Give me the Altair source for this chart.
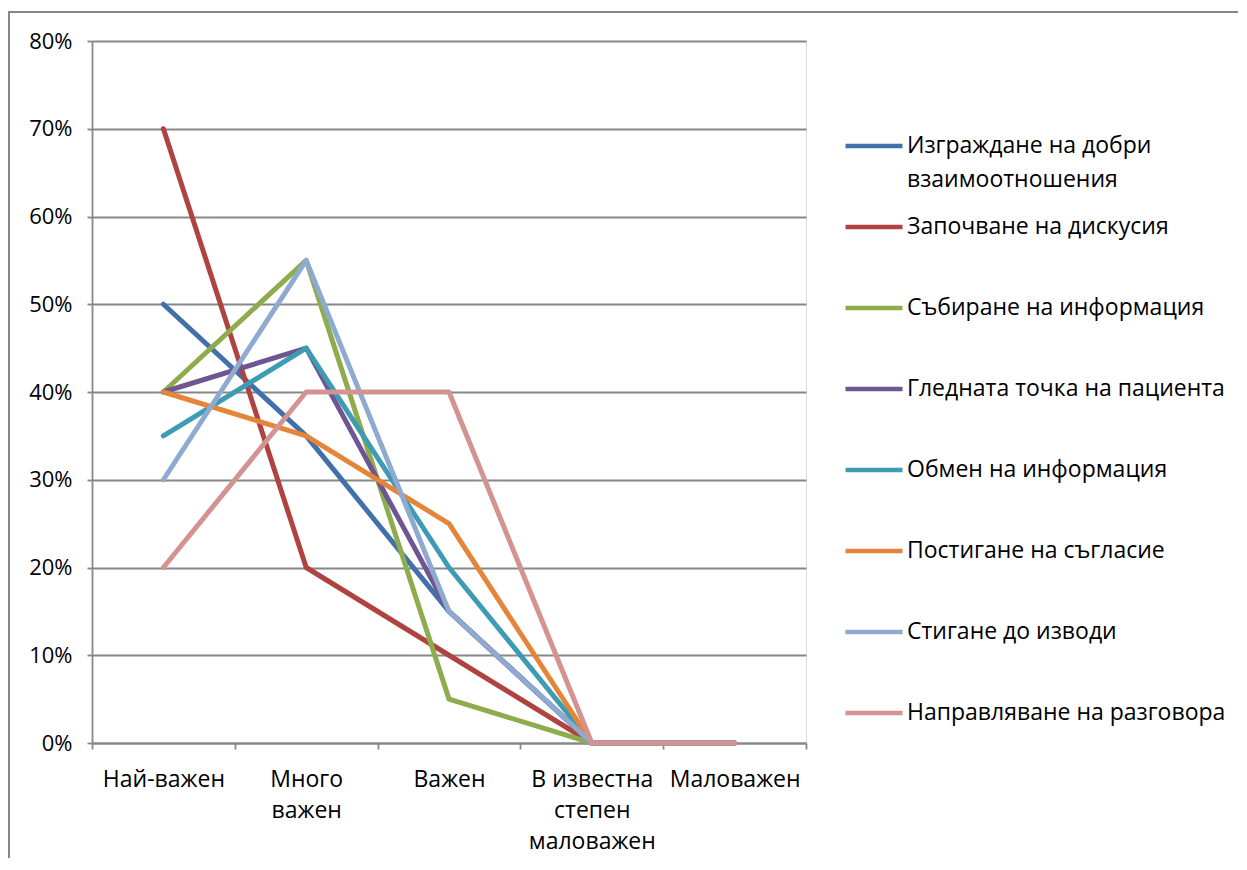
import json
import altair as alt
import pandas as pd

categories = ["Най-важен", "Много важен", "Важен", "В известна степен маловажен", "Маловажен"]
category_label_lines = [["Най-важен"], ["Много", "важен"], ["Важен"], ["В известна", "степен", "маловажен"], ["Маловажен"]]

series_names = [
    "Изграждане на добри взаимоотношения",
    "Започване на дискусия",
    "Събиране на информация",
    "Гледната точка на пациента",
    "Обмен на информация",
    "Постигане на съгласие",
    "Стигане до изводи",
    "Направляване на разговора",
]
legend_label_lines = [
    ["Изграждане на добри", "взаимоотношения"],
    ["Започване на дискусия"],
    ["Събиране на информация"],
    ["Гледната точка на пациента"],
    ["Обмен на информация"],
    ["Постигане на съгласие"],
    ["Стигане до изводи"],
    ["Направляване на разговора"],
]

s_izgrazhdane = [0.50, 0.35, 0.15, 0.0, 0.0]
s_zapochvane = [0.70, 0.20, 0.10, 0.0, 0.0]
s_sabirane = [0.40, 0.55, 0.05, 0.0, 0.0]
s_gledna = [0.40, 0.45, 0.15, 0.0, 0.0]
s_obmen = [0.35, 0.45, 0.20, 0.0, 0.0]
s_postigane = [0.40, 0.35, 0.25, 0.0, 0.0]
s_stigane = [0.30, 0.55, 0.15, 0.0, 0.0]
s_napravlyavane = [0.20, 0.40, 0.40, 0.0, 0.0]

series_values = [s_izgrazhdane, s_zapochvane, s_sabirane, s_gledna, s_obmen,
                 s_postigane, s_stigane, s_napravlyavane]

colors = ["#4170AA", "#AE433F", "#8DAC4D", "#6E5693", "#3E9BB4", "#E5853A", "#8FAAD1", "#D39391"]

rows = []
for name, vals in zip(series_names, series_values):
    for cat, v in zip(categories, vals):
        rows.append({"series": name, "category": cat, "value": v})
df = pd.DataFrame(rows)

x_map = {c: l for c, l in zip(categories, category_label_lines)}
leg_map = {s: l for s, l in zip(series_names, legend_label_lines)}
x_label_expr = "(" + json.dumps(x_map, ensure_ascii=False) + ")[datum.label]"
leg_label_expr = "(" + json.dumps(leg_map, ensure_ascii=False) + ")[datum.label]"

FONT = "Open Sans"
GRAY = "#878787"

lines = alt.Chart(df).mark_line(strokeWidth=5, strokeCap="round", strokeJoin="round").encode(
    x=alt.X("category:N", sort=categories, bandPosition=0.5,
            scale=alt.Scale(type="band", paddingInner=0, paddingOuter=0),
            axis=alt.Axis(title=None, labelAngle=0, tickBand="extent", grid=False,
                          labelExpr=x_label_expr, labelFont=FONT, labelFontSize=23,
                          labelColor="#000000", labelLineHeight=31, labelPadding=19,
                          tickSize=6, tickColor=GRAY, tickWidth=1.8,
                          domainColor=GRAY, domainWidth=1.8)),
    y=alt.Y("value:Q", scale=alt.Scale(domain=[0, 0.8], nice=False),
            axis=alt.Axis(title=None, format=".0%", values=[0, 0.1, 0.2, 0.3, 0.4, 0.5, 0.6, 0.7, 0.8],
                          labelFont=FONT, labelFontSize=22, labelColor="#000000",
                          labelPadding=15, tickSize=5, tickColor=GRAY, tickWidth=1.8,
                          domainColor=GRAY, domainWidth=1.8,
                          grid=True, gridColor=GRAY, gridWidth=1.8)),
    color=alt.Color("series:N", sort=series_names,
                    scale=alt.Scale(domain=series_names, range=colors),
                    legend=alt.Legend(title=None, symbolType="stroke", symbolSize=3249,
                                      symbolStrokeWidth=4.5, labelFont=FONT, labelFontSize=23,
                                      labelColor="#000000", labelExpr=leg_label_expr,
                                      labelLimit=400, labelOffset=2, rowPadding=4,
                                      gridAlign="all", padding=0, orient="none",
                                      legendX=751, legendY=74)),
)

border = alt.Chart(pd.DataFrame({"b": [0]})).mark_rect(fill=None, stroke=GRAY, strokeWidth=2).encode(
    x=alt.value(-83), x2=alt.value(1200), y=alt.value(-29), y2=alt.value(900)
)

chart = alt.layer(border, lines).properties(
    width=714, height=702,
    padding={"left": 84, "top": 33, "right": 432, "bottom": 115},
    autosize=alt.AutoSizeParams(type="none"),
    background="#ffffff",
).configure_view(stroke=None).configure(style={"guide-label": {"lineHeight": 34}})

chart.save("out.html", embed_options={"renderer": "svg", "actions": False})
